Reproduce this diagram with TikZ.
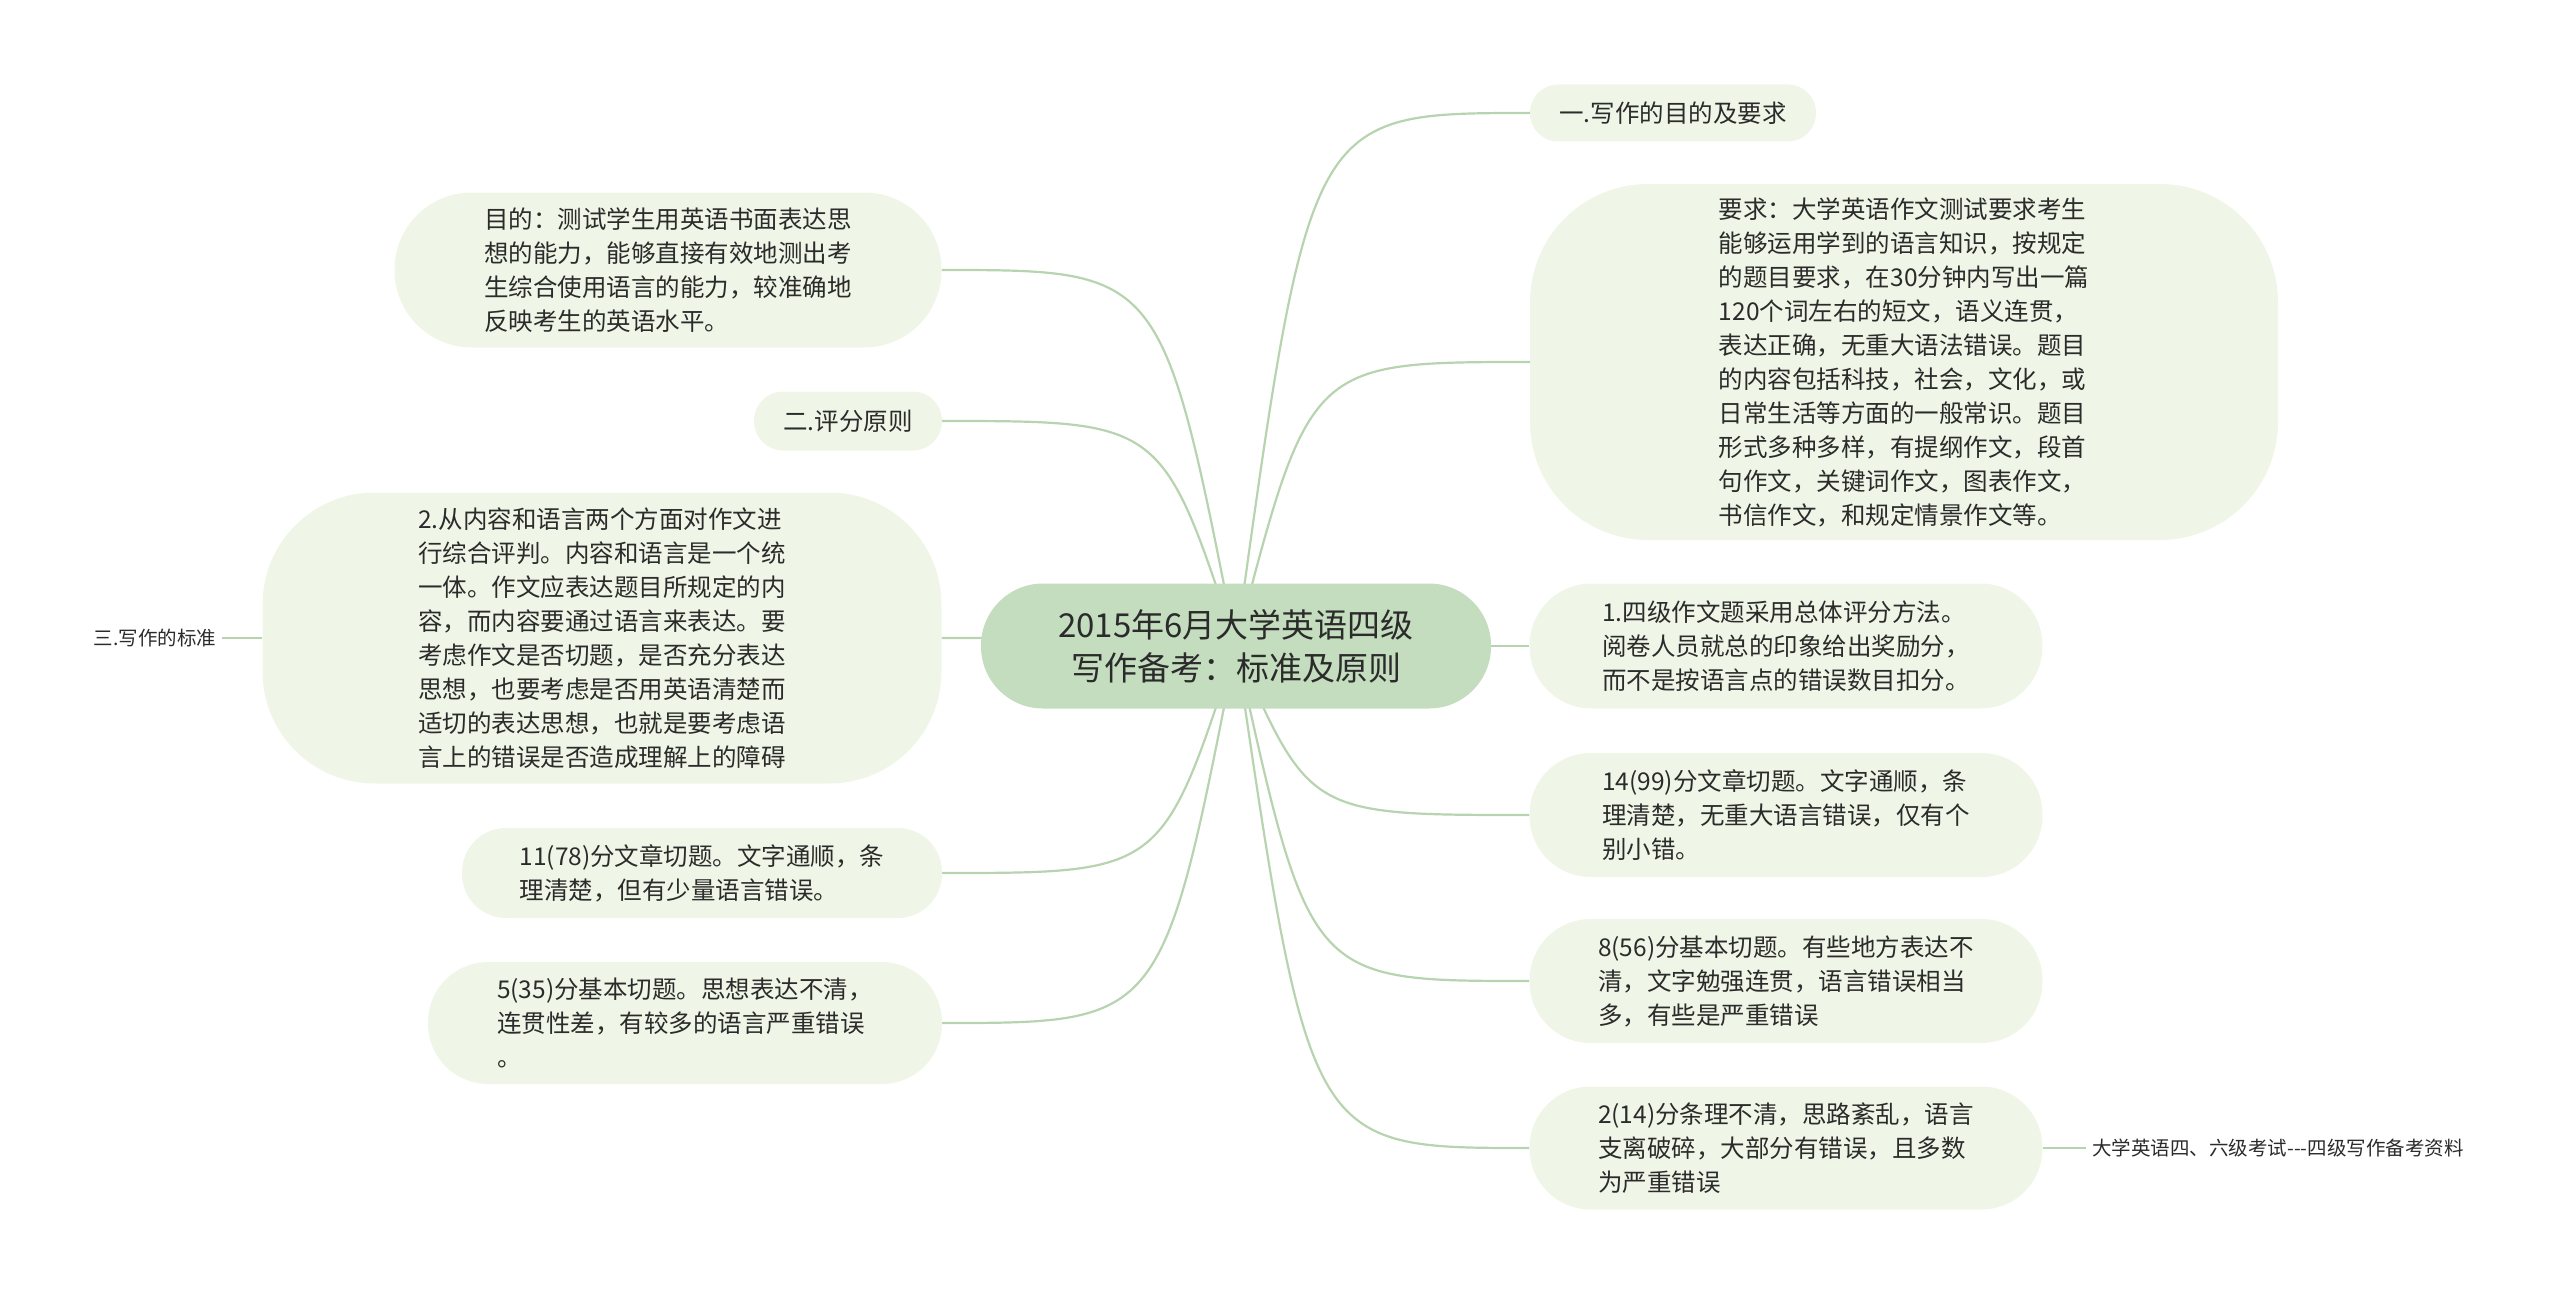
\documentclass[tikz,border=0pt]{standalone}
\usepackage{fontspec}
\setmainfont{Noto Sans CJK SC}
\usetikzlibrary{backgrounds,calc}

\definecolor{leaffill}{HTML}{F0F6E7}
\definecolor{rootfill}{HTML}{C4DDBE}
\definecolor{linkgreen}{HTML}{B7D3AF}
\definecolor{inkgray}{HTML}{2B2B2B}

\tikzset{
  topic/.style={fill=rootfill, text=inkgray, align=center, font=\fontsize{33}{43}\selectfont,
    minimum width=510, minimum height=125, rounded corners=62, inner sep=0},
  leaf/.style={fill=leaffill, text=inkgray, align=left, font=\fontsize{24.5}{34}\selectfont, inner sep=0},
  tag/.style={text=inkgray, font=\fontsize{19.5}{24}\selectfont, inner sep=6},
  link/.style={draw=linkgreen, line width=2.2pt},
}

\begin{document}
\begin{tikzpicture}[x=1pt, y=-1pt]
\useasboundingbox (0,0) rectangle (2560,1295);

\node[topic] (root) at (1236,646) {2015年6月大学英语四级\\写作备考：标准及原则};

% left side
\node[leaf, minimum width=547, minimum height=155, rounded corners=77] (aim) at (668,270)
 {目的：测试学生用英语书面表达思\\想的能力，能够直接有效地测出考\\生综合使用语言的能力，较准确地\\反映考生的英语水平。};
\node[leaf, minimum width=188, minimum height=59, rounded corners=29] (score) at (848,421) {二.评分原则};
\node[leaf, minimum width=679, minimum height=291, rounded corners=112] (content) at (602,638)
 {2.从内容和语言两个方面对作文进\\行综合评判。内容和语言是一个统\\一体。作文应表达题目所规定的内\\容，而内容要通过语言来表达。要\\考虑作文是否切题，是否充分表达\\思想，也要考虑是否用英语清楚而\\适切的表达思想，也就是要考虑语\\言上的错误是否造成理解上的障碍};
\node[tag] (std) at (155,638) {三.写作的标准};
\node[leaf, minimum width=480, minimum height=90, rounded corners=44] (good) at (702,873)
 {11(78)分文章切题。文字通顺，条\\理清楚，但有少量语言错误。};
\node[leaf, minimum width=514, minimum height=122, rounded corners=60] (fair) at (685,1023)
 {5(35)分基本切题。思想表达不清，\\连贯性差，有较多的语言严重错误\\。};

% right side
\node[leaf, minimum width=286, minimum height=57, rounded corners=28] (head) at (1673,113) {一.写作的目的及要求};
\node[leaf, minimum width=748, minimum height=356, rounded corners=118] (req) at (1904,362)
 {要求：大学英语作文测试要求考生\\能够运用学到的语言知识，按规定\\的题目要求，在30分钟内写出一篇\\120个词左右的短文，语义连贯，\\表达正确，无重大语法错误。题目\\的内容包括科技，社会，文化，或\\日常生活等方面的一般常识。题目\\形式多种多样，有提纲作文，段首\\句作文，关键词作文，图表作文，\\书信作文，和规定情景作文等。};
\node[leaf, minimum width=513, minimum height=125, rounded corners=62] (overall) at (1786,646)
 {1.四级作文题采用总体评分方法。\\阅卷人员就总的印象给出奖励分，\\而不是按语言点的错误数目扣分。};
\node[leaf, minimum width=513, minimum height=124, rounded corners=61] (excel) at (1786,815)
 {14(99)分文章切题。文字通顺，条\\理清楚，无重大语言错误，仅有个\\别小错。};
\node[leaf, minimum width=513, minimum height=124, rounded corners=61] (mid) at (1786,981)
 {8(56)分基本切题。有些地方表达不\\清，文字勉强连贯，语言错误相当\\多，有些是严重错误};
\node[leaf, minimum width=513, minimum height=123, rounded corners=61] (poor) at (1786,1148)
 {2(14)分条理不清，思路紊乱，语言\\支离破碎，大部分有错误，且多数\\为严重错误};
\node[tag] (src) at (2278,1148) {大学英语四、六级考试-{}-{}-四级写作备考资料};

\begin{scope}[on background layer]
\foreach \n in {aim,score,content,good,fair}
  \draw[link] (root.center) .. controls ($(root.center |- \n.east)!0.25!(\n.east)$) .. (\n.east);
\foreach \n in {head,req,overall,excel,mid,poor}
  \draw[link] (root.center) .. controls ($(root.center |- \n.west)!0.25!(\n.west)$) .. (\n.west);
\draw[link] (content.west) -- (std.east);
\draw[link] (poor.east) -- (src.west);
\end{scope}

\end{tikzpicture}
\end{document}
